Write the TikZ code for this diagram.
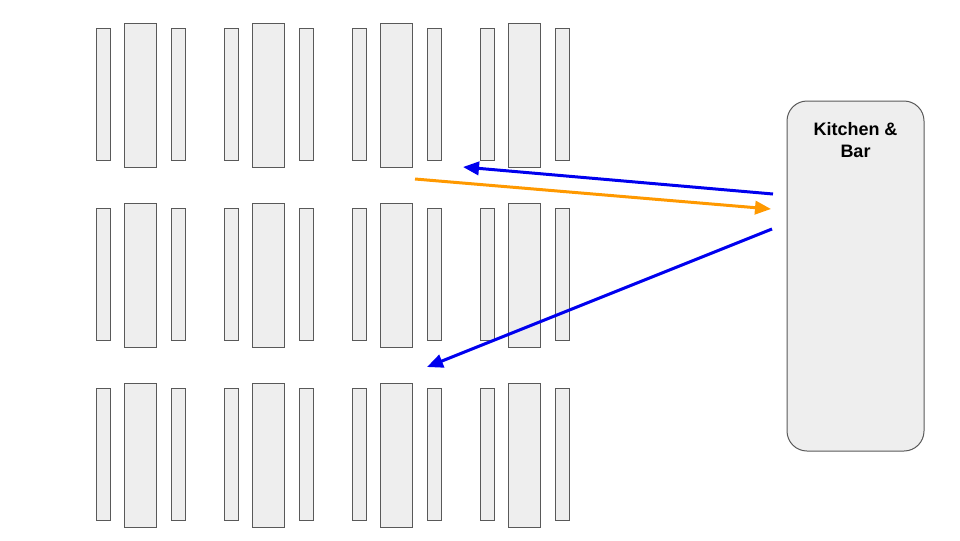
\documentclass[tikz,border=0pt]{standalone}
\usepackage{fontspec}
\setmainfont{Liberation Sans}
\usetikzlibrary{arrows.meta}
\definecolor{cinzaclaro}{HTML}{EEEEEE}
\definecolor{borda}{HTML}{595959}
\definecolor{azul}{HTML}{0000EE}
\definecolor{laranja}{HTML}{FF9900}
\begin{document}
\begin{tikzpicture}[
                x=0.75pt, y=-0.75pt,
                cadeira/.style={shape=rectangle, draw=borda, fill=cinzaclaro, line width=0.75pt,
                                inner sep=0pt, minimum width=10.5pt, minimum height=99pt},
                mesa/.style={shape=rectangle, draw=borda, fill=cinzaclaro, line width=0.75pt,
                             inner sep=0pt, minimum width=24pt, minimum height=108pt},
                cozinha/.style={shape=rectangle, draw=borda, fill=cinzaclaro, line width=0.75pt,
                                rounded corners=15pt, inner sep=0pt,
                                minimum width=102.75pt, minimum height=262.5pt},
                seta/.style={line width=2.25pt, -{Triangle[length=12pt, width=10pt]}},
            ]
            \useasboundingbox (0, 0) rectangle (960, 540);
            % mesas e cadeiras
            \foreach \l in {1, 2, 3} {
                \foreach \c in {1, 2, 3, 4} {
                    \node[cadeira] (cadeira-e-\l-\c) at ({103 + 128*(\c-1)}, {94 + 180*(\l-1)}) {};
                    \node[mesa] (mesa-\l-\c) at ({140 + 128*(\c-1)}, {95 + 180*(\l-1)}) {};
                    \node[cadeira] (cadeira-d-\l-\c) at ({178 + 128*(\c-1)}, {94 + 180*(\l-1)}) {};
                }
            }
            % cozinha
            \node[cozinha] (cozinha) at (855.5, 276) {};
            \node[font=\bfseries\fontsize{13.5pt}{16.5pt}\selectfont, align=center, anchor=north]
                (cozinha-texto) at (855.5, 118) {Kitchen \&\\Bar};
            % pontos das setas
            \coordinate (saida-1) at (773, 194);
            \coordinate (entrega-1) at (463, 167);
            \coordinate (pedido) at (415, 179);
            \coordinate (entrada) at (771, 209);
            \coordinate (saida-2) at (772, 229);
            \coordinate (entrega-2) at (427, 367);
            \draw[seta, azul] (saida-1) -- (entrega-1);
            \draw[seta, laranja] (pedido) -- (entrada);
            \draw[seta, azul] (saida-2) -- (entrega-2);
        \end{tikzpicture}
\end{document}
